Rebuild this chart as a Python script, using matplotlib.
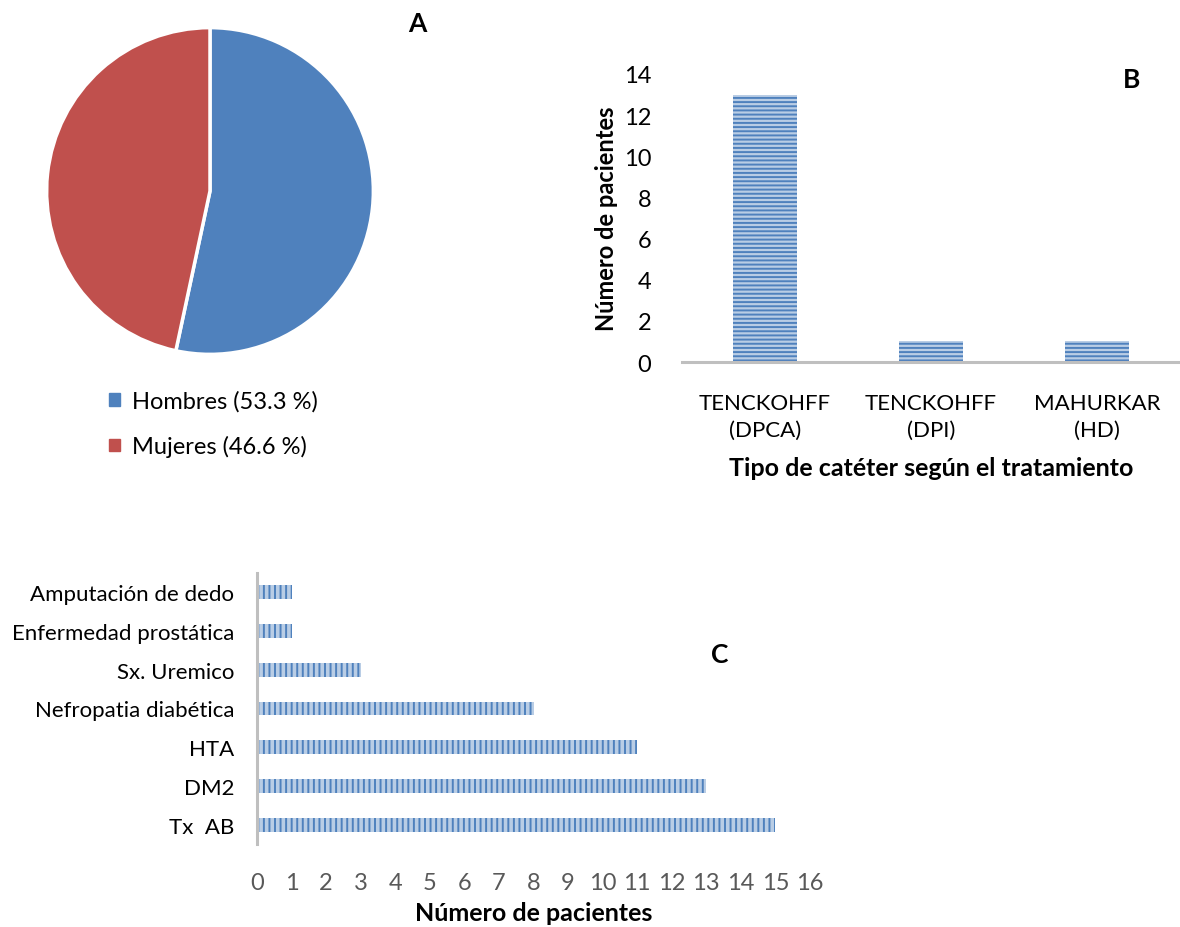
import matplotlib
matplotlib.use("Agg")
import matplotlib.pyplot as plt
import numpy as np
from matplotlib.patches import Patch

plt.rcParams["font.family"] = ["Lato", "DejaVu Sans"]
plt.rcParams["hatch.linewidth"] = 1.4

# panel A
sex_labels = ["Hombres (53.3 %)", "Mujeres (46.6 %)"]
sex_values = [53.3, 46.6]
sex_colors = ["#4f81bd", "#c0504d"]

# panel B
catheter_labels = ["TENCKOHFF\n(DPCA)", "TENCKOHFF\n(DPI)", "MAHURKAR\n(HD)"]
catheter_counts = [13, 1, 1]

# panel C
cause_labels = ["Tx  AB", "DM2", "HTA", "Nefropatia diabética", "Sx. Uremico",
                "Enfermedad prostática", "Amputación de dedo"]
cause_counts = [15, 13, 11, 8, 3, 1, 1]

BAR_EDGE = "#4f81bd"
BAR_FACE = "#b9cde5"
AXIS_GRAY = "#bfbfbf"

fig = plt.figure(figsize=(11.8, 9.28), dpi=100)

# --- A: pie ---
ax_a = fig.add_axes([45 / 1180, 1 - 357 / 928, 330 / 1180, 330 / 928])
ax_a.pie(sex_values, startangle=90, counterclock=False, colors=sex_colors,
         wedgeprops=dict(edgecolor="white", linewidth=2.5))
ax_a.set_xlim(-1.01, 1.01)
ax_a.set_ylim(-1.01, 1.01)
ax_a.set_aspect("equal")
handles = [Patch(color=c) for c in sex_colors]
fig.legend(handles, sex_labels, loc="upper left",
           bbox_to_anchor=(88 / 1180, 1 - 370 / 928), frameon=False,
           fontsize=17, handlelength=0.45, handleheight=0.45,
           handletextpad=0.5, labelspacing=1.0)
fig.text(417 / 1180, 1 - 24 / 928, "A", fontsize=19, fontweight="bold",
         ha="center", va="center")

# --- B: vertical bars ---
ax_b = fig.add_axes([682 / 1180, 1 - 363 / 928, 498 / 1180, 288 / 928])
xb = np.arange(len(catheter_labels))
ax_b.bar(xb, catheter_counts, width=0.38, color=BAR_FACE, edgecolor=BAR_EDGE,
         linewidth=0, hatch="----")
ax_b.set_xlim(-0.5, len(catheter_labels) - 0.5)
ax_b.set_ylim(0, 14)
ax_b.set_yticks(range(0, 15, 2))
ax_b.set_xticks(xb)
ax_b.set_xticklabels(catheter_labels, fontsize=16, linespacing=1.45)
ax_b.tick_params(axis="y", labelsize=17, length=0, pad=22)
ax_b.tick_params(axis="x", length=0, pad=22)
for s in ["left", "right", "top"]:
    ax_b.spines[s].set_visible(False)
ax_b.spines["bottom"].set_color(AXIS_GRAY)
ax_b.spines["bottom"].set_linewidth(2.2)
ax_b.set_xlabel("Tipo de catéter según el tratamiento", fontsize=18,
                fontweight="bold", labelpad=12)
ax_b.set_ylabel("Número de pacientes", fontsize=17, fontweight="bold",
                labelpad=4)
fig.text(1132 / 1180, 1 - 80 / 928, "B", fontsize=19, fontweight="bold",
         ha="center", va="center")

# --- C: horizontal bars ---
ax_c = fig.add_axes([257 / 1180, 1 - 845 / 928, 553 / 1180, 271 / 928])
yc = np.arange(len(cause_labels))
ax_c.barh(yc, cause_counts, height=0.36, color=BAR_FACE, edgecolor=BAR_EDGE,
          linewidth=0, hatch="|||")
ax_c.set_xlim(0, 16)
ax_c.set_ylim(-0.5, len(cause_labels) - 0.5)
ax_c.set_xticks(range(0, 17))
ax_c.set_yticks(yc)
ax_c.set_yticklabels(cause_labels, fontsize=16)
ax_c.tick_params(axis="x", labelsize=17, length=0, pad=20, labelcolor="#595959")
ax_c.tick_params(axis="y", length=0, pad=16.5)
for s in ["right", "top", "bottom"]:
    ax_c.spines[s].set_visible(False)
ax_c.spines["left"].set_color(AXIS_GRAY)
ax_c.spines["left"].set_linewidth(2.2)
ax_c.set_xlabel("Número de pacientes", fontsize=18, fontweight="bold",
                labelpad=6)
fig.text(720 / 1180, 1 - 655 / 928, "C", fontsize=19, fontweight="bold",
         ha="center", va="center")

fig.savefig("out.png", dpi=100)
